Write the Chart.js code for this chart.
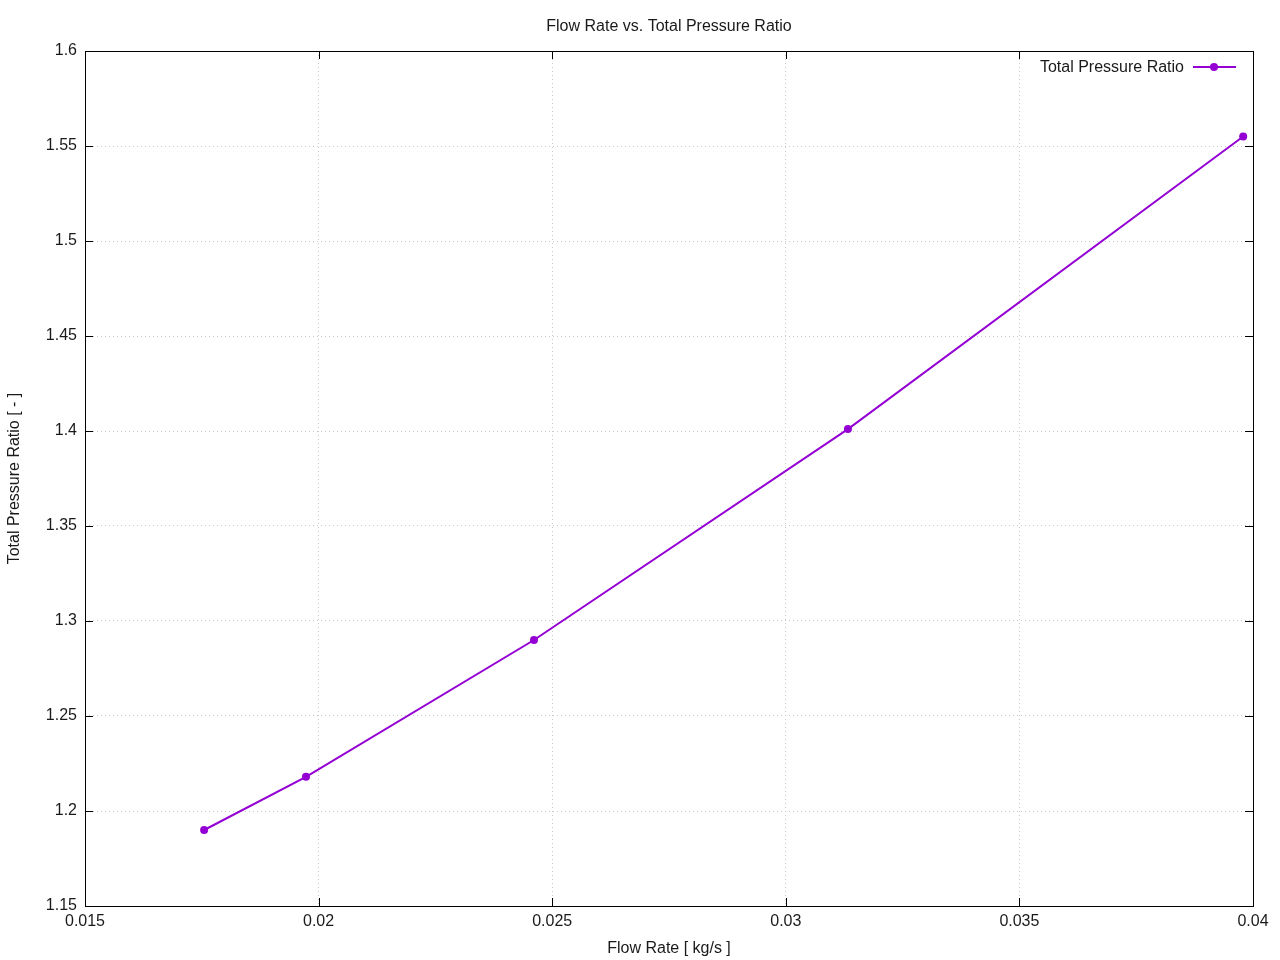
<!DOCTYPE html>
<html>
<head>
<meta charset="utf-8">
<script src="https://cdn.jsdelivr.net/npm/chart.js@4.4.0/dist/chart.umd.min.js"></script>
<style>
  html, body { margin: 0; padding: 0; background: #fff; }
  #wrap { width: 1280px; height: 960px; }
</style>
</head>
<body>
<div id="wrap"><canvas id="c" width="1280" height="960"></canvas></div>
<script>
const chartTitle = "Flow Rate vs. Total Pressure Ratio";
const xTitle = "Flow Rate [ kg/s ]";
const yTitle = "Total Pressure Ratio [ - ]";
const seriesName = "Total Pressure Ratio";
const flowRate = [0.01755, 0.01973, 0.02461, 0.03133, 0.03979];
const pressureRatio = [1.190, 1.218, 1.290, 1.401, 1.555];
const xTickValues = [0.015, 0.02, 0.025, 0.03, 0.035, 0.04];
const xTickLabels = ["0.015", "0.02", "0.025", "0.03", "0.035", "0.04"];
const yTickValues = [1.15, 1.2, 1.25, 1.3, 1.35, 1.4, 1.45, 1.5, 1.55, 1.6];
const yTickLabels = ["1.15", "1.2", "1.25", "1.3", "1.35", "1.4", "1.45", "1.5", "1.55", "1.6"];

const COLOR = "#9400d3";
const FONT = "'Liberation Sans', Arial, sans-serif";
const FS = 16;

const points = flowRate.map((x, i) => ({ x: x, y: pressureRatio[i] }));

const decor = {
  id: "decor",
  afterDraw(chart) {
    const ctx = chart.ctx;
    const a = chart.chartArea;
    const xs = chart.scales.x, ys = chart.scales.y;
    ctx.save();
    // frame
    ctx.strokeStyle = "#000";
    ctx.lineWidth = 1;
    ctx.strokeRect(Math.round(a.left) + 0.5, Math.round(a.top) + 0.5,
                   Math.round(a.right - a.left), Math.round(a.bottom - a.top));
    // inward ticks
    const tl = 8;
    ctx.beginPath();
    xTickValues.forEach(v => {
      const px = Math.round(xs.getPixelForValue(v)) + 0.5;
      ctx.moveTo(px, a.bottom); ctx.lineTo(px, a.bottom - tl);
      ctx.moveTo(px, a.top); ctx.lineTo(px, a.top + tl);
    });
    yTickValues.forEach(v => {
      const py = Math.round(ys.getPixelForValue(v)) + 0.5;
      ctx.moveTo(a.left, py); ctx.lineTo(a.left + tl, py);
      ctx.moveTo(a.right, py); ctx.lineTo(a.right - tl, py);
    });
    ctx.stroke();
    // title
    ctx.fillStyle = "#1a1a1a";
    ctx.font = FS + "px " + FONT;
    ctx.textAlign = "center";
    ctx.textBaseline = "middle";
    ctx.fillText(chartTitle, (a.left + a.right) / 2, 27);
    // x title
    ctx.fillText(xTitle, (a.left + a.right) / 2, 949);
    // y title
    ctx.save();
    ctx.translate(15, (a.top + a.bottom) / 2);
    ctx.rotate(-Math.PI / 2);
    ctx.fillText(yTitle, 0, 0);
    ctx.restore();
    // legend
    ctx.textAlign = "right";
    ctx.fillText(seriesName, 1184, 68);
    ctx.strokeStyle = COLOR;
    ctx.lineWidth = 2;
    ctx.beginPath();
    ctx.moveTo(1193, 67); ctx.lineTo(1236, 67);
    ctx.stroke();
    ctx.fillStyle = COLOR;
    ctx.beginPath();
    ctx.arc(1214, 67, 4, 0, Math.PI * 2);
    ctx.fill();
    ctx.restore();
  }
};

new Chart(document.getElementById("c"), {
  type: "scatter",
  data: {
    datasets: [{
      label: seriesName,
      data: points,
      showLine: true,
      borderColor: COLOR,
      backgroundColor: COLOR,
      borderWidth: 2,
      pointRadius: 4,
      pointHoverRadius: 4,
      pointBorderWidth: 0,
      tension: 0
    }]
  },
  options: {
    responsive: false,
    animation: false,
    devicePixelRatio: 1,
    layout: { padding: { top: 51, right: 27, left: 0, bottom: 0 } },
    plugins: {
      legend: { display: false },
      title: { display: false },
      tooltip: { enabled: false }
    },
    scales: {
      x: {
        type: "linear",
        min: 0.015,
        max: 0.04,
        afterFit(s) { s.height = 54; },
        afterBuildTicks(s) { s.ticks = xTickValues.map(v => ({ value: v })); },
        ticks: {
          callback: (v, i) => xTickLabels[i],
          color: "#1a1a1a",
          font: { family: FONT, size: FS },
          padding: 6,
          maxRotation: 0
        },
        grid: { color: "#c8c8c8", drawTicks: false, tickLength: 0, lineWidth: 1 },
        border: { display: false, dash: [1, 3] }
      },
      y: {
        type: "linear",
        min: 1.15,
        max: 1.6,
        afterFit(s) { s.width = 85; },
        afterBuildTicks(s) { s.ticks = yTickValues.map(v => ({ value: v })); },
        ticks: {
          callback: (v, i) => yTickLabels[i],
          color: "#1a1a1a",
          font: { family: FONT, size: FS },
          padding: 8
        },
        grid: { color: "#c8c8c8", drawTicks: false, tickLength: 0, lineWidth: 1 },
        border: { display: false, dash: [1, 3] }
      }
    }
  },
  plugins: [decor]
});
</script>
</body>
</html>
